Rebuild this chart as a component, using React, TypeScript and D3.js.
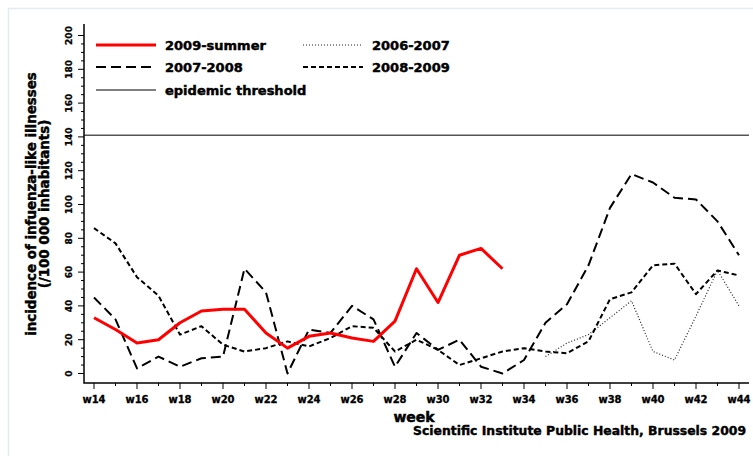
import { useEffect, useRef } from 'react';
import * as d3 from 'd3';

// weeks on the x axis
const weeks = [14, 15, 16, 17, 18, 19, 20, 21, 22, 23, 24, 25, 26, 27, 28, 29, 30, 31, 32, 33, 34, 35, 36, 37, 38, 39, 40, 41, 42, 43, 44];
const weekLabels = ['w14', 'w16', 'w18', 'w20', 'w22', 'w24', 'w26', 'w28', 'w30', 'w32', 'w34', 'w36', 'w38', 'w40', 'w42', 'w44'];
const yTickLabels = ['0', '20', '40', '60', '80', '100', '120', '140', '160', '180', '200'];

// incidence per 100 000
const summer2009 = [33, 26, 18, 20, 30, 37, 38, 38, 24, 15, 22, 24, 21, 19, 31, 62, 42, 70, 74, 62]; // w14 - w33
const season0607 = [10, 18, 23, 33, 43, 13, 8, 34, 61, 40]; // w35 - w44
const season0708 = [45, 32, 3, 10, 4, 9, 10, 62, 48, 0, 26, 24, 40, 32, 4, 24, 14, 20, 4, 0, 8, 30, 41, 64, 98, 118, 113, 104, 103, 90, 70];
const season0809 = [86, 77, 57, 46, 23, 28, 17, 13, 15, 19, 16, 21, 28, 27, 13, 20, 14, 5, 9, 13, 15, 13, 12, 19, 44, 48, 64, 65, 47, 61, 58];
const epidemicThreshold = 141;

const FONT = "'DejaVu Sans', sans-serif";

export default function App() {
  const svgRef = useRef<SVGSVGElement>(null);

  useEffect(() => {
    if (!svgRef.current) return;
    const svg = d3.select(svgRef.current);
    svg.selectAll('*').remove();

    const width = 753;
    const height = 456;
    const plot = { left: 84, right: 749, top: 24, bottom: 383 };

    const x = d3.scaleLinear().domain([weeks[0], weeks[weeks.length - 1]]).range([94, 739]);
    const y = d3.scaleLinear().domain([0, 200]).range([373.5, 35.5]);

    // heavier text, the original uses a very black bold face
    const heavy = (sel: any, size: string, sw = 0.45) =>
      sel.style('font-family', FONT)
        .style('font-weight', 'bold')
        .style('font-size', size)
        .attr('fill', '#000')
        .attr('stroke', '#000')
        .attr('stroke-width', sw);

    // page background + faint frame
    svg.append('rect').attr('width', width).attr('height', height).attr('fill', 'white');
    svg.append('path')
      .attr('d', `M8.5,${height} V8.5 H${width}`)
      .attr('fill', 'none')
      .attr('stroke', '#e3ebee')
      .attr('stroke-width', 1.5);

    // epidemic threshold
    svg.append('line')
      .attr('x1', plot.left).attr('x2', plot.right)
      .attr('y1', y(epidemicThreshold)).attr('y2', y(epidemicThreshold))
      .attr('stroke', '#555').attr('stroke-width', 1.5);

    // series
    const series = [
      { name: '2006-2007', values: season0607, start: 35, stroke: '#222', width: 1.2, dash: '1,2' },
      { name: '2008-2009', values: season0809, start: 14, stroke: '#000', width: 2, dash: '5,3' },
      { name: '2007-2008', values: season0708, start: 14, stroke: '#000', width: 2, dash: '10,5' },
      { name: '2009-summer', values: summer2009, start: 14, stroke: '#ff0000', width: 3, dash: null },
    ];

    series.forEach(s => {
      const line = d3.line<number>()
        .x((_, i) => x(s.start + i))
        .y(d => y(d));
      svg.append('path')
        .datum(s.values)
        .attr('d', line)
        .attr('fill', 'none')
        .attr('stroke', s.stroke)
        .attr('stroke-width', s.width)
        .attr('stroke-linejoin', 'round')
        .attr('stroke-dasharray', s.dash);
    });

    // axes
    svg.append('path')
      .attr('d', `M${plot.left},${plot.top} V${plot.bottom} H${plot.right}`)
      .attr('fill', 'none')
      .attr('stroke', '#000')
      .attr('stroke-width', 1.5);

    // y ticks every 5, labels every 20
    const yMinor = d3.range(0, 201, 5);
    svg.append('g').selectAll('line')
      .data(yMinor)
      .enter().append('line')
      .attr('x1', d => (d % 20 === 0 ? plot.left - 6 : plot.left - 3))
      .attr('x2', plot.left)
      .attr('y1', d => y(d)).attr('y2', d => y(d))
      .attr('stroke', '#000').attr('stroke-width', 1);

    heavy(svg.append('g').selectAll('text')
      .data(yTickLabels)
      .enter().append('text')
      .attr('transform', d => `translate(71.5,${y(+d)}) rotate(-90)`)
      .attr('text-anchor', 'middle'), '9px', 0.3)
      .text(d => d);

    // x ticks each week, labels every 2
    svg.append('g').selectAll('line')
      .data(weeks)
      .enter().append('line')
      .attr('x1', d => x(d)).attr('x2', d => x(d))
      .attr('y1', plot.bottom)
      .attr('y2', d => (d % 2 === 0 ? plot.bottom + 6 : plot.bottom + 3))
      .attr('stroke', '#000').attr('stroke-width', 1);

    heavy(svg.append('g').selectAll('text')
      .data(weekLabels)
      .enter().append('text')
      .attr('x', d => x(+d.slice(1)))
      .attr('y', 403)
      .attr('text-anchor', 'middle'), '10px', 0.3)
      .text(d => d);

    // axis titles
    heavy(svg.append('text')
      .attr('x', 414).attr('y', 422)
      .attr('text-anchor', 'middle'), '14px', 0.5)
      .text('week');

    const yTitle = svg.append('g').attr('transform', 'translate(0,204) rotate(-90)');
    heavy(yTitle.append('text')
      .attr('x', 0).attr('y', 36)
      .attr('text-anchor', 'middle'), '13.4px')
      .text('incidence of infuenza-like illnesses');
    heavy(yTitle.append('text')
      .attr('x', 0).attr('y', 49)
      .attr('text-anchor', 'middle'), '13.4px')
      .text('(/100 000 inhabitants)');

    // source
    heavy(svg.append('text')
      .attr('x', 413).attr('y', 435)
      .attr('textLength', 333)
      .attr('lengthAdjust', 'spacingAndGlyphs'), '12px', 0.4)
      .text('Scientific Institute Public Health, Brussels 2009');

    // legend
    const legend = [
      { name: '2009-summer', x: 96, y: 45, stroke: '#ff0000', width: 3, dash: null },
      { name: '2006-2007', x: 303, y: 45, stroke: '#222', width: 1.2, dash: '1,2' },
      { name: '2007-2008', x: 96, y: 67, stroke: '#000', width: 2, dash: '10,5' },
      { name: '2008-2009', x: 303, y: 67, stroke: '#000', width: 2, dash: '5,3' },
      { name: 'epidemic threshold', x: 96, y: 90, stroke: '#000', width: 1, dash: null },
    ];
    const lg = svg.append('g').selectAll('g')
      .data(legend)
      .enter().append('g');
    lg.append('line')
      .attr('x1', d => d.x).attr('x2', d => d.x + 60)
      .attr('y1', d => d.y).attr('y2', d => d.y)
      .attr('stroke', d => d.stroke)
      .attr('stroke-width', d => d.width)
      .attr('stroke-dasharray', d => d.dash);
    heavy(lg.append('text')
      .attr('x', d => d.x + 69)
      .attr('y', d => d.y + 4.5), '13px')
      .text(d => d.name);
  }, []);

  return (
    <div style={{ position: 'absolute', left: 0, top: 0 }}>
      <svg ref={svgRef} width={753} height={456} style={{ display: 'block' }} />
    </div>
  );
}
